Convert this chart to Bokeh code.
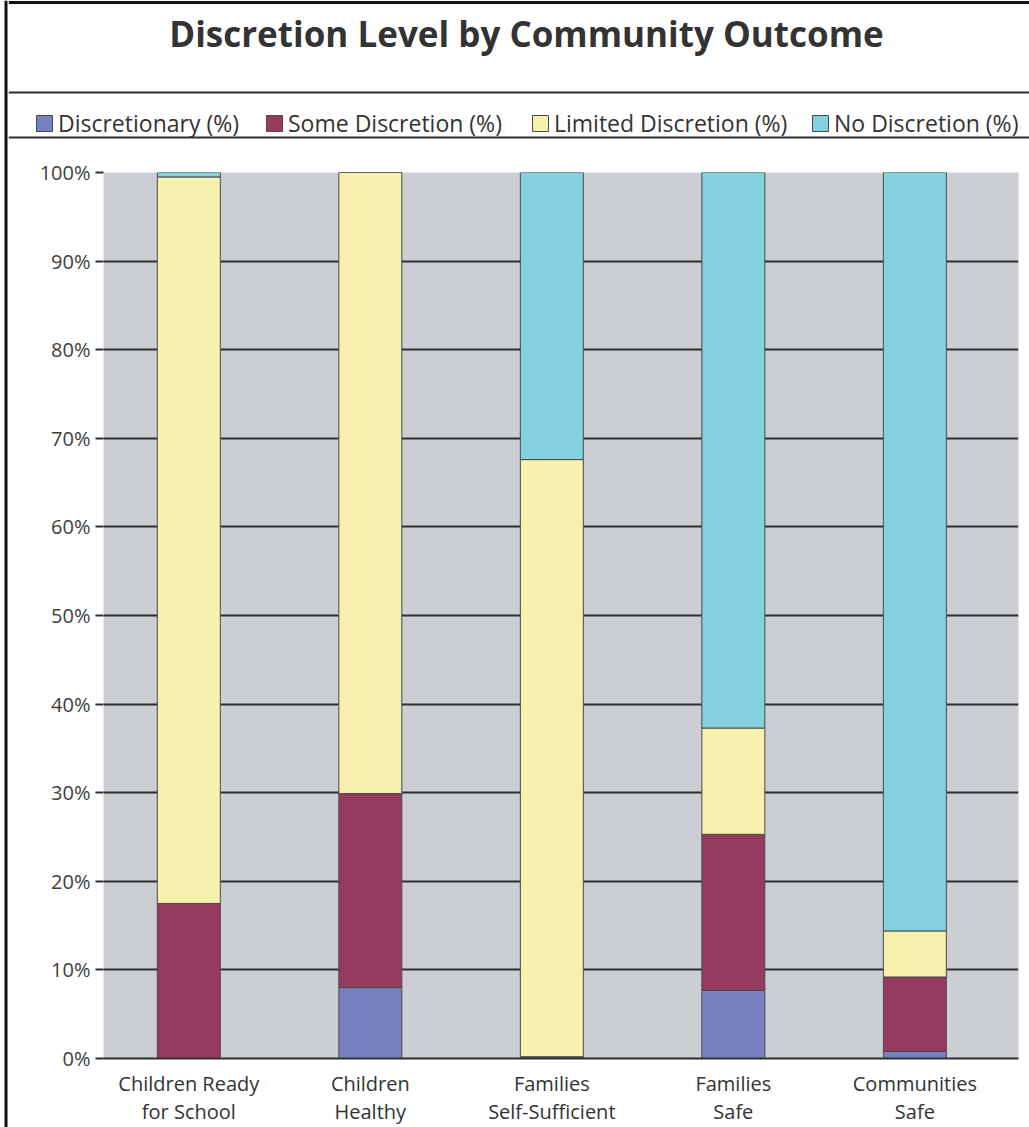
from bokeh.plotting import figure
from bokeh.layouts import row, column
from bokeh.models import (Range1d, FixedTicker, Legend, LegendItem, Label,
                          Span, ColumnDataSource, PrintfTickFormatter)
from bokeh.embed import file_html
from bokeh.resources import INLINE

# --- data -----------------------------------------------------------------
outcomes = ["Children Ready for School", "Children Healthy",
            "Families Self-Sufficient", "Families Safe", "Communities Safe"]
outcome_labels = ["Children Ready\nfor School", "Children\nHealthy",
                  "Families\nSelf-Sufficient", "Families\nSafe",
                  "Communities\nSafe"]

levels = ["Discretionary (%)", "Some Discretion (%)",
          "Limited Discretion (%)", "No Discretion (%)"]

discretionary = [0.0, 8.0, 0.2, 7.7, 0.8]
some_discretion = [17.5, 21.9, 0.0, 17.6, 8.4]
limited_discretion = [82.0, 70.1, 67.4, 12.0, 5.2]
no_discretion = [0.5, 0.0, 32.4, 62.7, 85.6]

y_ticks = [0, 10, 20, 30, 40, 50, 60, 70, 80, 90, 100]

# --- styling ----------------------------------------------------------------
colors = ["#7780C0", "#963A5E", "#F8F0AD", "#84D2DF"]
BAR_EDGE = "#4a4a4a"
FONT = "Open Sans"
TEXT = "#333333"
RULE = "#2e2e2e"

W, H = 1029, 1127
EDGE_W = 8              # strip carrying the left border line
HEAD_H = 142            # title + legend band
BODY_W = W - EDGE_W
BODY_H = H - HEAD_H

src = ColumnDataSource(dict(
    x=list(range(len(outcomes))),
    outcome=outcomes,
    **{levels[0]: discretionary, levels[1]: some_discretion,
       levels[2]: limited_discretion, levels[3]: no_discretion}))


def bare(fig):
    fig.min_border = 0
    fig.min_border_left = fig.min_border_right = 0
    fig.min_border_top = fig.min_border_bottom = 0
    fig.outline_line_color = None
    fig.background_fill_color = "white"
    fig.border_fill_color = "white"
    fig.frame_align = False
    fig.grid.visible = False
    return fig


# --- left border strip -----------------------------------------------------
edge = bare(figure(width=EDGE_W, height=H, output_backend="svg",
                   toolbar_location=None, x_axis_location=None,
                   y_axis_location=None, x_range=Range1d(0, EDGE_W),
                   y_range=Range1d(H, 0)))
edge.add_layout(Span(location=5.5, dimension="height",
                     line_color="#111111", line_width=3))

# --- header: title and legend band ----------------------------------------
head = bare(figure(width=BODY_W, height=HEAD_H, output_backend="svg",
                   toolbar_location=None, x_axis_location=None,
                   y_axis_location=None, x_range=Range1d(0, BODY_W),
                   y_range=Range1d(HEAD_H, 0)))
head.add_layout(Span(location=2, dimension="width",
                     line_color="#111111", line_width=3))
head.add_layout(Span(location=92, dimension="width",
                     line_color=RULE, line_width=2))
head.add_layout(Span(location=137, dimension="width",
                     line_color=RULE, line_width=2))
head.add_layout(Label(x=526 - EDGE_W, y=33,
                      text="Discretion Level by Community Outcome",
                      text_align="center", text_baseline="middle",
                      text_font=FONT, text_font_style="bold",
                      text_font_size="35px", text_color=TEXT))

# legend swatches borrow their look from hidden copies of the bar layers
swatch_left = [34, 264, 530, 810]
for name, c, sx in zip(levels, colors, swatch_left):
    r = head.vbar(x="x", top=name, width=0.3, source=src, fill_color=c,
                  line_color=BAR_EDGE, line_width=1, visible=False)
    head.add_layout(Legend(
        items=[LegendItem(label=name, renderers=[r])],
        location=(sx - EDGE_W, 3.5), orientation="horizontal",
        border_line_color=None, background_fill_alpha=0,
        padding=0, margin=0, spacing=0,
        glyph_width=20, glyph_height=20, label_standoff=4,
        label_height=20, label_text_font=FONT,
        label_text_font_size="23px", label_text_color=TEXT))

# --- stacked bar chart ------------------------------------------------------
FL, FR, FT, FB = 95, 1010, 172 - HEAD_H, 1058 - HEAD_H

p = figure(width=BODY_W, height=BODY_H, output_backend="svg",
           toolbar_location=None,
           x_range=Range1d(-0.47, 4.571), y_range=Range1d(0, 100),
           min_border_left=FL, min_border_right=BODY_W - FR,
           min_border_top=FT, min_border_bottom=BODY_H - FB)
p.background_fill_color = "#CBCED3"
p.border_fill_color = "white"
p.outline_line_color = None
p.frame_align = False

p.vbar_stack(levels, x="x", width=0.347, source=src,
             fill_color=colors, line_color=BAR_EDGE, line_width=1)

p.xgrid.visible = False
p.ygrid.ticker = FixedTicker(ticks=y_ticks)
p.ygrid.grid_line_color = RULE
p.ygrid.grid_line_width = 2

yax = p.yaxis[0]
yax.ticker = FixedTicker(ticks=y_ticks)
yax.formatter = PrintfTickFormatter(format="%d%%")
yax.axis_line_color = None
yax.major_tick_line_color = RULE
yax.major_tick_line_width = 2
yax.major_tick_out = 8
yax.major_tick_in = 0
yax.minor_tick_line_color = None
yax.major_label_standoff = 5
yax.major_label_text_font = FONT
yax.major_label_text_font_size = "20px"
yax.major_label_text_color = "#404040"

xax = p.xaxis[0]
xax.ticker = FixedTicker(ticks=list(range(len(outcomes))))
xax.major_label_overrides = {i: lab for i, lab in enumerate(outcome_labels)}
xax.major_tick_line_color = None
xax.minor_tick_line_color = None
xax.axis_line_color = RULE
xax.axis_line_width = 2
xax.major_label_standoff = 5
xax.major_label_text_font = FONT
xax.major_label_text_font_size = "20px"
xax.major_label_text_color = TEXT
xax.major_label_text_line_height = 1.04

layout = row(edge, column(head, p, spacing=0), spacing=0)

open("out.html", "w").write(file_html(layout, INLINE))
